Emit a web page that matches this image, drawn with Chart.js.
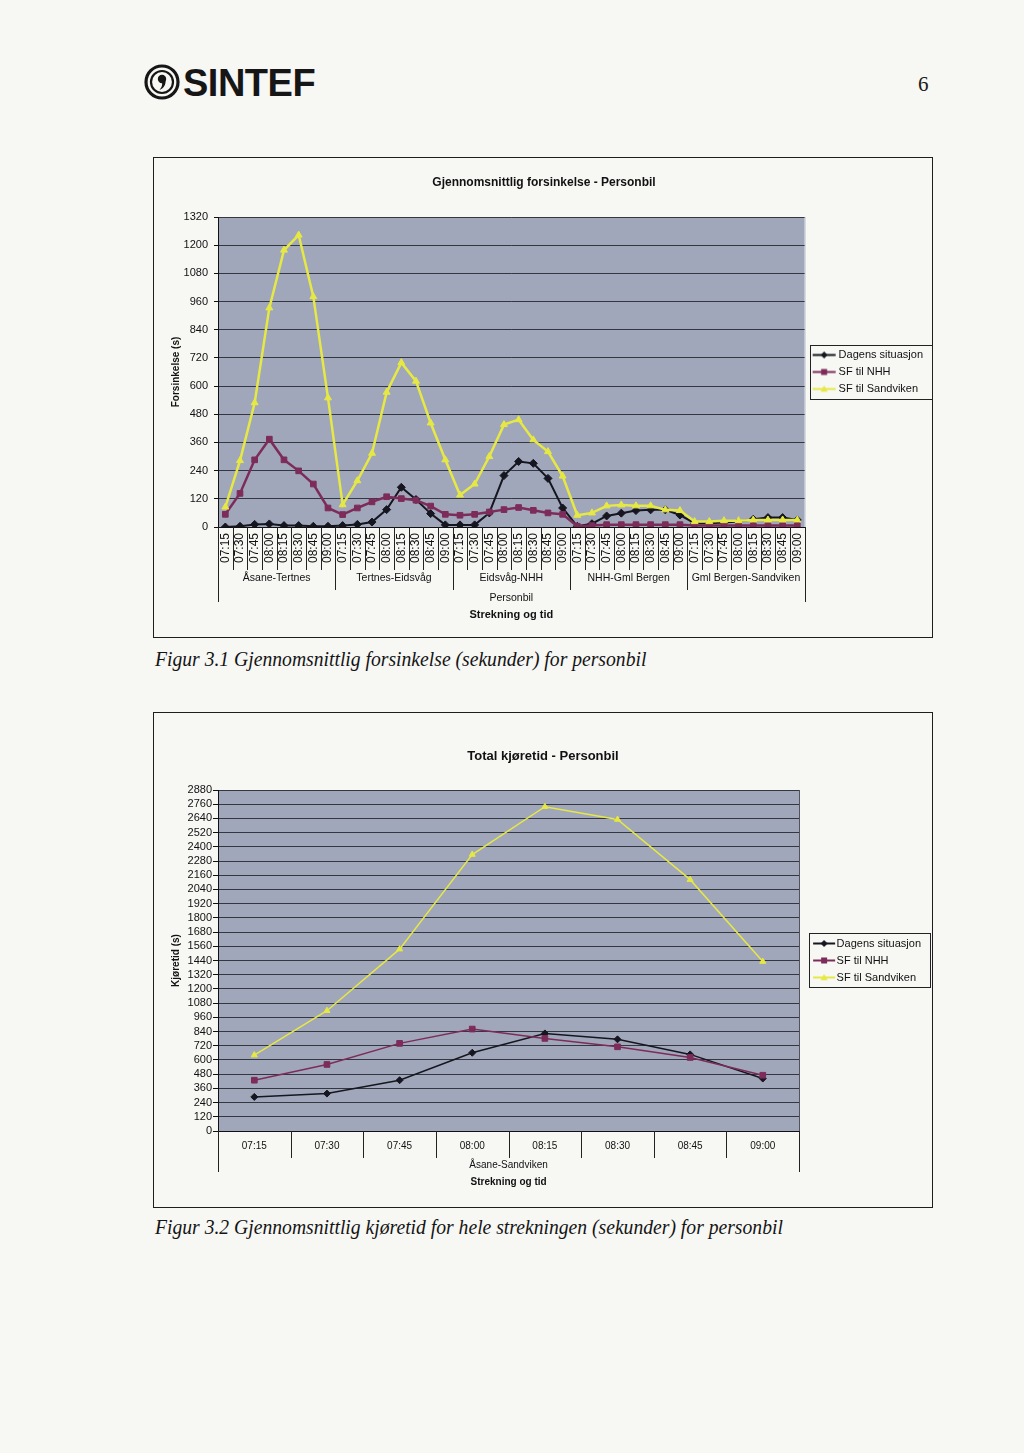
<!DOCTYPE html>
<html>
<head>
<meta charset="utf-8">
<title>Gjennomsnittlig forsinkelse og kjøretid - Personbil</title>
<script src="https://cdn.jsdelivr.net/npm/chart.js@4.4.1/dist/chart.umd.min.js"></script>
<style>
  html, body { margin: 0; padding: 0; }
  body { width: 1024px; height: 1453px; position: relative; background: #f7f7f4; font-family: Arial, "Liberation Sans", sans-serif; overflow: hidden; }
  .frame { position: absolute; border: 1.5px solid #1e1e1e; box-sizing: border-box; }
  .chart-box { position: absolute; }
  .caption { position: absolute; font-family: "Liberation Serif", "DejaVu Serif", serif; font-style: italic; font-size: 21px; color: #141414; white-space: nowrap; transform: scaleX(0.935); transform-origin: left top; }
  #logo { position: absolute; left: 144px; top: 64px; }
  #brand { position: absolute; left: 183px; top: 62px; font: bold 38px Arial, "Liberation Sans", sans-serif; letter-spacing: -0.5px; color: #161616; }
  #pageno { position: absolute; left: 918px; top: 72px; font: 21px "Liberation Serif", serif; color: #1a1a1a; }
</style>
</head>
<body>
<svg id="logo" width="36" height="36" viewBox="0 0 36 36">
  <circle cx="18" cy="18" r="16" fill="none" stroke="#161616" stroke-width="3.2"/>
  <circle cx="18" cy="18" r="11" fill="none" stroke="#161616" stroke-width="2.2"/>
  <circle cx="18" cy="15" r="4.2" fill="#161616"/>
  <path d="M21.5 16 C22 21 19.5 24.5 15.5 26 C18 23 18.5 20.5 18 18.5 Z" fill="#161616"/>
</svg>
<div id="brand">SINTEF</div>
<div id="pageno">6</div>

<div class="frame" style="left:153px; top:157px; width:780px; height:481px;"></div>
<div class="chart-box" style="left:155px; top:159px; width:778px; height:476px;"><canvas id="delayChart"></canvas></div>
<div class="caption" style="left:155px; top:647px;">Figur 3.1 Gjennomsnittlig forsinkelse (sekunder) for personbil</div>

<div class="frame" style="left:153px; top:712px; width:780px; height:496px;"></div>
<div class="chart-box" style="left:155px; top:714px; width:776px; height:491px;"><canvas id="totalChart"></canvas></div>
<div class="caption" style="left:155px; top:1215px;">Figur 3.2 Gjennomsnittlig kjøretid for hele strekningen (sekunder) for personbil</div>

<script>
// categories
const timeLabels = ['07:15', '07:30', '07:45', '08:00', '08:15', '08:30', '08:45', '09:00'];
const sections = ['Åsane-Tertnes', 'Tertnes-Eidsvåg', 'Eidsvåg-NHH', 'NHH-Gml Bergen', 'Gml Bergen-Sandviken'];
const vehicle = ['Personbil'];
const wholeRoute = ['Åsane-Sandviken'];
const seriesNames = ['Dagens situasjon', 'SF til NHH', 'SF til Sandviken'];

// Forsinkelse (s): 5 strekninger x 8 tidspunkt
const delayDagens = [
  0, 3, 11, 13, 6, 6, 3, 3,
  6, 11, 21, 74, 169, 117, 57, 9,
  9, 9, 60, 219, 279, 271, 207, 81,
  3, 14, 47, 59, 70, 73, 73, 51,
  16, 16, 19, 23, 33, 40, 40, 30
];
const delayNHH = [
  54, 143, 286, 374, 286, 239, 183, 81,
  53, 81, 107, 129, 121, 114, 89, 54,
  50, 54, 64, 74, 83, 71, 60, 54,
  3, 6, 10, 10, 10, 10, 10, 10,
  6, 6, 6, 6, 6, 6, 6, 6
];
const delaySandviken = [
  85, 283, 529, 933, 1179, 1243, 981, 550,
  95, 197, 314, 574, 700, 621, 443, 286,
  136, 183, 300, 436, 457, 371, 321, 217,
  50, 60, 90, 94, 90, 90, 73, 70,
  23, 23, 27, 27, 30, 30, 30, 30
];
const delayTicks = [0, 120, 240, 360, 480, 600, 720, 840, 960, 1080, 1200, 1320];

// Total kjøretid (s), Åsane-Sandviken
const totalDagens = [288, 316, 429, 661, 824, 774, 647, 443];
const totalNHH = [429, 562, 740, 861, 782, 711, 621, 471];
const totalSandviken = [641, 1016, 1536, 2335, 2739, 2631, 2123, 1431];
const totalTicks = [0, 120, 240, 360, 480, 600, 720, 840, 960, 1080, 1200, 1320, 1440,
  1560, 1680, 1800, 1920, 2040, 2160, 2280, 2400, 2520, 2640, 2760, 2880];

const colors = { dagens: '#15161f', nhh: '#7d2c5a', sandviken: '#e6e843' };
const plotColor = '#a1a7ba';
const gridColor = '#34373f';
const ink = '#111';

// fill the plot area like the Excel chart
const plotBg = {
  id: 'plotBg',
  beforeDraw(chart, args, opts) {
    const { ctx, chartArea: a } = chart;
    ctx.save();
    ctx.fillStyle = opts.color;
    ctx.fillRect(a.left, a.top, a.width, a.height);
    ctx.restore();
  },
  afterDraw(chart, args, opts) {
    const { ctx, chartArea: a } = chart;
    ctx.save();
    ctx.strokeStyle = opts.edge;
    ctx.lineWidth = 1;
    ctx.beginPath();
    ctx.moveTo(Math.round(a.right) + 0.5, a.top);
    ctx.lineTo(Math.round(a.right) + 0.5, a.bottom);
    ctx.stroke();
    ctx.restore();
  }
};

// separator lines and extra category levels under the x axis
const xLevels = {
  id: 'xLevels',
  afterDraw(chart, args, opts) {
    const { ctx, chartArea: a } = chart;
    const x = chart.scales.x;
    const n = chart.data.labels.length;
    const w = n > 1 ? x.getPixelForValue(1) - x.getPixelForValue(0) : a.width;
    const start = x.getPixelForValue(0) - w / 2;
    ctx.save();
    ctx.strokeStyle = '#222';
    ctx.lineWidth = 1;
    for (let i = 0; i <= n; i++) {
      let len = opts.tick;
      if (i % opts.group === 0) len = opts.groupTick;
      if (i === 0 || i === n) len = opts.outerTick;
      const px = Math.round(start + i * w) + 0.5;
      ctx.beginPath();
      ctx.moveTo(px, a.bottom);
      ctx.lineTo(px, a.bottom + len);
      ctx.stroke();
    }
    ctx.fillStyle = ink;
    ctx.textAlign = 'center';
    ctx.textBaseline = 'middle';
    ctx.font = opts.font;
    opts.groups.forEach((g, j) => {
      const cx = start + (j + 0.5) * opts.group * w;
      ctx.fillText(g, cx, a.bottom + opts.groupY);
    });
    if (opts.outer) {
      ctx.fillText(opts.outer, (a.left + a.right) / 2, a.bottom + opts.outerY);
    }
    ctx.restore();
  }
};

// thin box round the legend
const legendBox = {
  id: 'legendBox',
  afterDraw(chart, args, opts) {
    const hb = chart.legend && chart.legend.legendHitBoxes;
    if (!hb || !hb.length) return;
    const t = Math.min(...hb.map(b => b.top));
    const btm = Math.max(...hb.map(b => b.top + b.height));
    const a = chart.chartArea;
    const ctx = chart.ctx;
    ctx.save();
    ctx.strokeStyle = '#222';
    ctx.lineWidth = 1;
    ctx.strokeRect(Math.round(a.right + opts.dx) + 0.5, Math.round(t) - 4.5, opts.w, Math.round(btm - t) + 9);
    ctx.restore();
  }
};

// legend symbol: short line with the marker, placed inside a wide canvas
function legendIcon(color, style, size, box, s, e) {
  const W = 48, H = 11;
  const c = document.createElement('canvas');
  c.width = W; c.height = H;
  const g = c.getContext('2d');
  const x0 = W / 2 + s - box / 2, x1 = W / 2 + e - box / 2, m = (x0 + x1) / 2, cy = H / 2;
  g.strokeStyle = color; g.fillStyle = color; g.lineWidth = 2;
  g.beginPath(); g.moveTo(x0, cy); g.lineTo(x1, cy); g.stroke();
  g.beginPath();
  if (style === 'rectRot') {
    g.moveTo(m, cy - size); g.lineTo(m + size, cy); g.lineTo(m, cy + size); g.lineTo(m - size, cy);
  } else if (style === 'rect') {
    g.rect(m - size, cy - size, 2 * size, 2 * size);
  } else {
    g.moveTo(m, cy - size); g.lineTo(m + size, cy + size * 0.8); g.lineTo(m - size, cy + size * 0.8);
  }
  g.closePath(); g.fill();
  return c;
}

function series(label, data, color, style, radius, width, order) {
  return {
    label: label,
    data: data,
    borderColor: color,
    backgroundColor: color,
    pointStyle: style,
    pointRadius: radius,
    pointBorderWidth: 1,
    borderWidth: width,
    tension: 0,
    order: order
  };
}

function legendOptions(box, s, e) {
  return {
    position: 'right',
    align: 'center',
    fullSize: false,
    labels: {
      usePointStyle: true,
      pointStyleWidth: box,
      boxHeight: 10,
      padding: 6,
      color: ink,
      font: { size: 11, family: 'Arial, "Liberation Sans", sans-serif' },
      generateLabels: chart => chart.data.datasets.map((ds, i) => ({
        text: ds.label,
        pointStyle: legendIcon(ds.borderColor, ds.pointStyle, ds.pointStyle === 'rect' ? 3 : 3.5, box, s, e),
        fillStyle: ds.backgroundColor,
        strokeStyle: ds.borderColor,
        lineWidth: 0,
        hidden: false,
        datasetIndex: i,
        fontColor: ink
      }))
    }
  };
}

Chart.defaults.font.family = 'Arial, "Liberation Sans", sans-serif';
Chart.defaults.color = ink;

new Chart(document.getElementById('delayChart'), {
  type: 'line',
  data: {
    labels: sections.flatMap(() => timeLabels),
    datasets: [
      series(seriesNames[0], delayDagens, colors.dagens, 'rectRot', 4, 2, 3),
      series(seriesNames[1], delayNHH, colors.nhh, 'rect', 4, 2.5, 2),
      series(seriesNames[2], delaySandviken, colors.sandviken, 'triangle', 4, 2.5, 1)
    ]
  },
  options: {
    responsive: true,
    maintainAspectRatio: false,
    animation: false,
    layout: { padding: { left: 0, right: 0, top: 0, bottom: 0 } },
    plugins: {
      title: {
        display: true,
        text: 'Gjennomsnittlig forsinkelse - Personbil',
        color: ink,
        font: { size: 12, weight: 'bold' },
        padding: { top: 16, bottom: 27.6 }
      },
      legend: legendOptions(22.5, 2, 25),
      tooltip: { enabled: false },
      plotBg: { color: plotColor, edge: '#d8dae2' },
      legendBox: { dx: 5, w: 122 },
      xLevels: {
        tick: 43, group: 8, groupTick: 63, outerTick: 75,
        groups: sections, groupY: 51,
        outer: vehicle[0], outerY: 71,
        font: '10.5px Arial, "Liberation Sans", sans-serif'
      }
    },
    scales: {
      x: {
        offset: true,
        grid: { display: false, drawTicks: false },
        border: { display: true, color: ink, width: 1 },
        ticks: { autoSkip: false, minRotation: 90, maxRotation: 90, padding: 6, color: ink, font: { size: 12 } },
        title: { display: true, text: 'Strekning og tid', color: ink, font: { size: 11, weight: 'bold' }, padding: { top: 0, bottom: 13 } },
        afterFit: s => { s.height = 108; }
      },
      y: {
        min: 0,
        max: 1320,
        afterBuildTicks: s => { s.ticks = delayTicks.map(v => ({ value: v })); },
        grid: { color: gridColor, lineWidth: 1, tickLength: 4, tickColor: ink },
        border: { color: ink, width: 1 },
        ticks: { autoSkip: false, padding: 6, color: ink, font: { size: 11 }, callback: v => String(v) },
        title: { display: true, text: 'Forsinkelse (s)', color: ink, font: { size: 10, weight: 'bold' }, padding: { top: 15, bottom: 0 } },
        afterFit: s => { s.width = 63; }
      }
    }
  },
  plugins: [plotBg, xLevels, legendBox]
});

new Chart(document.getElementById('totalChart'), {
  type: 'line',
  data: {
    labels: timeLabels,
    datasets: [
      series(seriesNames[0], totalDagens, colors.dagens, 'rectRot', 3.5, 1.5, 3),
      series(seriesNames[1], totalNHH, colors.nhh, 'rect', 4, 1.5, 2),
      series(seriesNames[2], totalSandviken, colors.sandviken, 'triangle', 3.5, 1.5, 1)
    ]
  },
  options: {
    responsive: true,
    maintainAspectRatio: false,
    animation: false,
    layout: { padding: { left: 0, right: 0, top: 0, bottom: 0 } },
    plugins: {
      title: {
        display: true,
        text: 'Total kjøretid - Personbil',
        color: ink,
        font: { size: 13, weight: 'bold' },
        padding: { top: 35, bottom: 25.4 }
      },
      legend: legendOptions(26, 8, 30),
      tooltip: { enabled: false },
      plotBg: { color: plotColor, edge: '#50535c' },
      legendBox: { dx: 10, w: 121 },
      xLevels: {
        tick: 27, group: 8, groupTick: 27, outerTick: 41,
        groups: wholeRoute, groupY: 34,
        outer: null, outerY: 0,
        font: '10px Arial, "Liberation Sans", sans-serif'
      }
    },
    scales: {
      x: {
        offset: true,
        grid: { display: false, drawTicks: false },
        border: { display: true, color: ink, width: 1 },
        ticks: { autoSkip: false, minRotation: 0, maxRotation: 0, padding: 9, color: ink, font: { size: 10 } },
        title: { display: true, text: 'Strekning og tid', color: ink, font: { size: 10, weight: 'bold' }, padding: { top: 0, bottom: 17 } },
        afterFit: s => { s.height = 74; }
      },
      y: {
        min: 0,
        max: 2880,
        afterBuildTicks: s => { s.ticks = totalTicks.map(v => ({ value: v })); },
        grid: { color: gridColor, lineWidth: 1, tickLength: 5, tickColor: ink },
        border: { color: ink, width: 1 },
        ticks: { autoSkip: false, padding: 1, color: ink, font: { size: 11 }, callback: v => String(v) },
        title: { display: true, text: 'Kjøretid (s)', color: ink, font: { size: 10, weight: 'bold' }, padding: { top: 15, bottom: 0 } },
        afterFit: s => { s.width = 63; }
      }
    }
  },
  plugins: [plotBg, xLevels, legendBox]
});
</script>
</body>
</html>
